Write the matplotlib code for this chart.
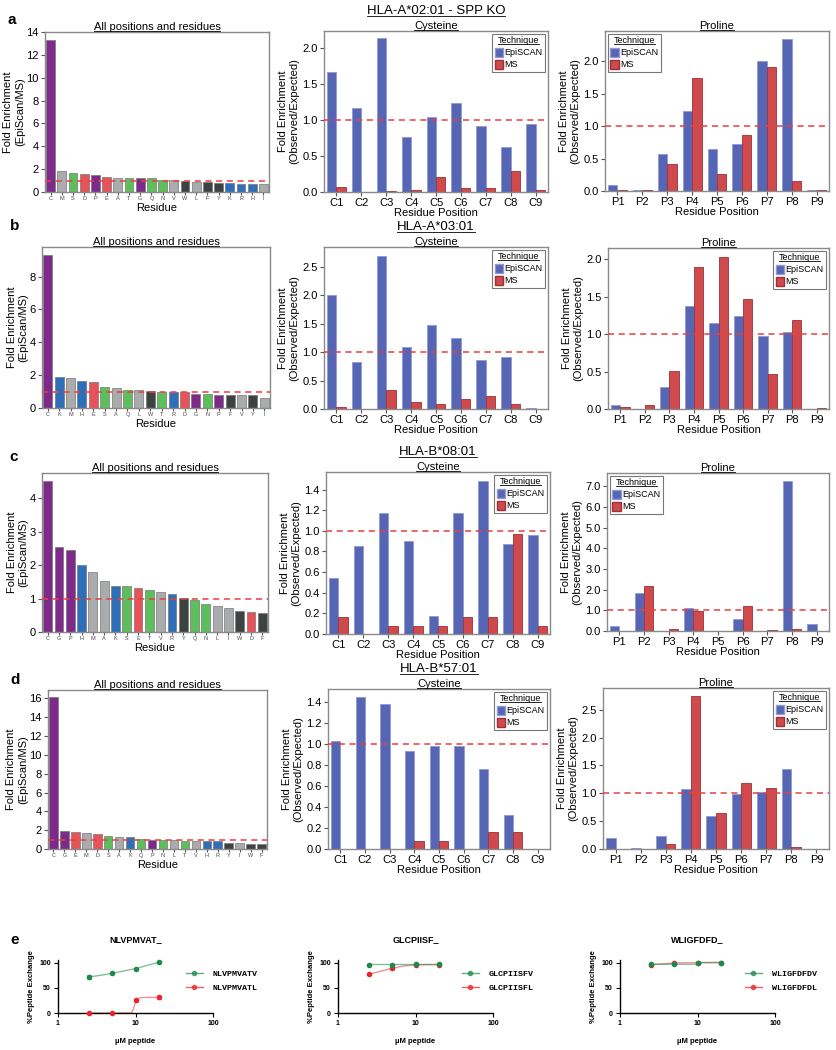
import numpy as np
import matplotlib
matplotlib.use("Agg")
import matplotlib.pyplot as plt
from matplotlib.lines import Line2D
from matplotlib.patches import Patch
from matplotlib.ticker import MultipleLocator, FixedLocator, NullLocator, FormatStrFormatter

plt.rcParams['font.family'] = ['Liberation Sans', 'DejaVu Sans']

W, H = 836, 1050

# ---- residue level fold enrichment (EpiScan/MS) ----
a_res = list("CMSDPEATGQNVWLFYKRHI")
a_fold = [13.33, 1.80, 1.68, 1.54, 1.45, 1.33, 1.25, 1.19, 1.19, 1.19,
          1.07, 1.04, 0.96, 0.84, 0.84, 0.75, 0.75, 0.72, 0.72, 0.67]
b_res = list("CKMHESAQLWTRDGNPFVYI")
b_fold = [9.33, 1.89, 1.81, 1.65, 1.57, 1.26, 1.20, 1.10, 1.08, 1.04,
          1.00, 1.00, 0.98, 0.86, 0.84, 0.79, 0.79, 0.77, 0.77, 0.61]
c_res = list("CGPHMAKSETVRYQNLIWDF")
c_fold = [4.52, 2.55, 2.44, 2.01, 1.80, 1.53, 1.38, 1.36, 1.31, 1.26,
          1.20, 1.13, 1.03, 0.97, 0.83, 0.77, 0.71, 0.64, 0.60, 0.57]
d_res = list("CGEMDSAKQPNLTVHRYIWF")
d_fold = [16.2, 1.92, 1.78, 1.67, 1.58, 1.40, 1.32, 1.32, 1.06, 0.93,
          0.95, 0.94, 0.88, 0.88, 0.84, 0.84, 0.69, 0.65, 0.50, 0.50]

# ---- position level (Observed/Expected) ----
a_cys_epi = [1.66, 1.17, 2.14, 0.76, 1.04, 1.23, 0.92, 0.62, 0.95]
a_cys_ms = [0.07, 0.0, 0.02, 0.03, 0.21, 0.05, 0.05, 0.29, 0.03]
a_pro_epi = [0.09, 0.02, 0.57, 1.24, 0.65, 0.73, 2.00, 2.35, 0.02]
a_pro_ms = [0.015, 0.02, 0.41, 1.75, 0.27, 0.87, 1.92, 0.15, 0.01]

b_cys_epi = [2.00, 0.83, 2.70, 1.09, 1.47, 1.25, 0.86, 0.91, 0.02]
b_cys_ms = [0.03, 0.0, 0.33, 0.13, 0.08, 0.18, 0.23, 0.08, 0.0]
b_pro_epi = [0.06, 0.0, 0.29, 1.37, 1.15, 1.24, 0.97, 1.03, 0.0]
b_pro_ms = [0.03, 0.06, 0.51, 1.89, 2.03, 1.47, 0.47, 1.19, 0.01]

c_cys_epi = [0.54, 0.855, 1.17, 0.90, 0.17, 1.17, 1.48, 0.87, 0.955]
c_cys_ms = [0.16, 0.0, 0.08, 0.08, 0.08, 0.16, 0.16, 0.97, 0.08]
c_pro_epi = [0.26, 1.84, 0.0, 1.09, 0.0, 0.58, 0.0, 7.26, 0.34]
c_pro_ms = [0.0, 2.20, 0.12, 0.95, 0.0, 1.22, 0.07, 0.10, 0.0]

d_cys_epi = [1.03, 1.44, 1.38, 0.93, 0.98, 0.98, 0.76, 0.32, 0.0]
d_cys_ms = [0.0, 0.0, 0.0, 0.08, 0.08, 0.0, 0.16, 0.16, 0.0]
d_pro_epi = [0.19, 0.02, 0.235, 1.07, 0.60, 0.99, 1.03, 1.44, 0.0]
d_pro_ms = [0.0, 0.0, 0.094, 2.74, 0.64, 1.18, 1.09, 0.03, 0.0]

# ---- peptide exchange (panel e) ----
conc = [2.5, 5, 10, 20]
e1_names = ["NLVPMVATV", "NLVPMVATL"]
e1_v = [71.5, 79, 88.5, 101]
e1_v_err = [3.5, 1.5, 1.5, 1.5]
e1_l = [0, 0, 25, 31]
e1_l_err = [0, 0, 1.5, 3]
e1_v_fit_x = [2.5, 3.5, 5, 7, 10, 14, 20]
e1_v_fit_y = [71.5, 75, 79, 83.5, 88.5, 94.5, 101]
e1_l_fit_x = [2.5, 8.8, 9.4, 10, 10.6, 11.5, 13, 20]
e1_l_fit_y = [0, 0, 8, 22, 28, 30.5, 31, 31]

e2_names = ["GLCPIISFV", "GLCPIISFL"]
e2_v = [96, 95.5, 98, 97]
e2_v_err = [1, 1, 1.5, 1]
e2_l = [77, 89, 96, 96.5]
e2_l_err = [1, 1, 1, 1]
e2_v_fit_x = [2.5, 5, 10, 20]
e2_v_fit_y = [96.8, 96.8, 96.8, 96.8]
e2_l_fit_x = [2.5, 3.5, 5, 7, 10, 14, 20]
e2_l_fit_y = [77, 83, 89, 93.5, 95.8, 96.3, 96.5]

e3_names = ["WLIGFDFDV", "WLIGFDFDL"]
e3_v = [97, 97, 99.5, 100.5]
e3_v_err = [1, 1, 1, 1]
e3_l = [96, 99.5, 100.5, 100.5]
e3_l_err = [1, 1, 1, 1]
e3_v_fit_x = [2.5, 5, 9.8, 10.2, 20]
e3_v_fit_y = [97, 97, 97, 100, 100.5]
e3_l_fit_x = [2.5, 5, 10, 20]
e3_l_fit_y = [96, 99.5, 100.5, 100.5]

# colours
purple, green, red, blue, lgrey, dgrey = '#7d2a8b', '#5dbf5c', '#e8535a', '#2f6fba', '#a9abad', '#3d4242'
res_colors = {}
for r in "CPG": res_colors[r] = purple
for r in "STQN": res_colors[r] = green
for r in "DE": res_colors[r] = red
for r in "KRH": res_colors[r] = blue
for r in "MAVLI": res_colors[r] = lgrey
for r in "WFY": res_colors[r] = dgrey
c_epi, c_epi_edge = '#5665b4', '#8f99d2'
c_ms, c_ms_edge = '#cf4a4d', '#9c3035'
dash_red = '#e8403f'
spine_grey = '#8a8a8a'
e_green, e_red = '#1c8a4c', '#e8242a'

fig = plt.figure(figsize=(W / 100, H / 100), dpi=100)
underlined = []


def add_ax(x0, y0, x1, y1):
    return fig.add_axes([x0 / W, 1 - y1 / H, (x1 - x0) / W, (y1 - y0) / H])


def top_text(ax, s, dy, size):
    t = ax.annotate(s, xy=(0.5, 1), xycoords='axes fraction', xytext=(0, dy),
                    textcoords='offset points', ha='center', va='bottom', fontsize=size)
    underlined.append(t)


def grey_box(ax):
    for sp in ax.spines.values():
        sp.set_color(spine_grey)
        sp.set_linewidth(1.0)
    ax.tick_params(axis='both', colors='#555555', labelcolor='black', length=3, width=0.8, pad=1.5)


def residue_panel(rect, residues, values, ymax, step, letter, letter_xy):
    ax = add_ax(*rect)
    idx = np.arange(len(residues))
    cols = [res_colors[r] for r in residues]
    ax.bar(idx, values, width=0.78, color=cols, edgecolor='#777777', linewidth=0.5, zorder=2)
    ax.axhline(1.0, color=dash_red, lw=1.1, dashes=(4, 3), zorder=3)
    ax.set_xlim(-0.5, len(residues) - 0.5)
    ax.set_ylim(0, ymax)
    ax.yaxis.set_major_locator(MultipleLocator(step))
    ax.set_xticks(idx)
    ax.set_xticklabels(residues, fontsize=4, color='#444444')
    grey_box(ax)
    ax.tick_params(axis='y', labelsize=8)
    ax.tick_params(axis='x', length=2, pad=1, labelcolor='#444444')
    ax.set_xlabel("Residue", fontsize=8, labelpad=1)
    ax.set_ylabel("Fold Enrichment\n(EpiScan/MS)", fontsize=8, labelpad=1)
    top_text(ax, "All positions and residues", 0, 8)
    fig.text(letter_xy[0] / W, 1 - letter_xy[1] / H, letter, fontsize=11, fontweight='bold',
             ha='left', va='center')
    return ax


def position_panel(rect, prefix, epi, ms, ymax, step, loc, title, allele=None):
    ax = add_ax(*rect)
    idx = np.arange(len(epi))
    ax.bar(idx - 0.19, epi, width=0.38, color=c_epi, edgecolor=c_epi_edge, linewidth=0.6, zorder=2)
    ax.bar(idx + 0.19, ms, width=0.38, color=c_ms, edgecolor=c_ms_edge, linewidth=0.6, zorder=2)
    ax.axhline(1.0, color=dash_red, lw=1.1, dashes=(4, 3), zorder=3)
    ax.set_xlim(-0.5, len(epi) - 0.5)
    ax.set_ylim(0, ymax)
    ax.yaxis.set_major_locator(MultipleLocator(step))
    ax.yaxis.set_major_formatter(FormatStrFormatter('%.1f'))
    ax.set_xticks(idx)
    ax.set_xticklabels([f"{prefix}{i + 1}" for i in idx])
    grey_box(ax)
    ax.tick_params(axis='both', labelsize=8)
    ax.set_xlabel("Residue Position", fontsize=8, labelpad=0)
    ax.set_ylabel("Fold Enrichment\n(Observed/Expected)", fontsize=8, labelpad=2)
    top_text(ax, title, 0, 8)
    if allele:
        top_text(ax, allele, 10, 9.5)
    handles = [Patch(facecolor=c_epi, edgecolor=c_epi_edge), Patch(facecolor=c_ms, edgecolor=c_ms_edge)]
    leg = ax.legend(handles, ["EpiSCAN", "MS"], title="Technique", loc=loc, fontsize=6.5,
                    title_fontsize=6.5, handlelength=0.9, handleheight=1.2, handletextpad=0.2,
                    borderpad=0.3, labelspacing=0.25, borderaxespad=0.3, fancybox=False,
                    framealpha=1, edgecolor='#777777')
    leg.get_frame().set_linewidth(0.8)
    underlined.append(leg.get_title())
    return ax


def exchange_panel(rect, title, y_v, err_v, y_l, err_l, fvx, fvy, flx, fly, names, leg_x):
    ax = add_ax(*rect)
    ax.plot(fvx, fvy, color=e_green, alpha=0.55, lw=1.0, zorder=2, clip_on=False)
    ax.plot(flx, fly, color=e_red, alpha=0.5, lw=1.0, zorder=1, clip_on=False)
    ax.errorbar(conc, y_l, yerr=err_l, fmt='o', ms=3, color=e_red, elinewidth=0.8,
                capsize=1.5, capthick=0.8, zorder=3, clip_on=False)
    ax.errorbar(conc, y_v, yerr=err_v, fmt='o', ms=3, color=e_green, elinewidth=0.8,
                capsize=1.5, capthick=0.8, zorder=4, clip_on=False)
    ax.set_xscale('log')
    ax.set_xlim(1, 100)
    ax.set_ylim(0, 105.5)
    ax.xaxis.set_major_locator(FixedLocator([1, 10, 100]))
    ax.xaxis.set_minor_locator(NullLocator())
    ax.set_xticklabels(["1", "10", "100"])
    ax.set_yticks([0, 50, 100])
    ax.spines['top'].set_visible(False)
    ax.spines['right'].set_visible(False)
    for sp in ('left', 'bottom'):
        ax.spines[sp].set_linewidth(1.0)
    ax.tick_params(length=3, width=0.8, labelsize=5, pad=2)
    for lab in ax.get_xticklabels() + ax.get_yticklabels():
        lab.set_fontweight('bold')
    ax.set_xlabel("µM peptide", fontsize=5.5, fontweight='bold', labelpad=8)
    ax.set_ylabel("%Peptide Exchange", fontsize=5.5, fontweight='bold', labelpad=3)
    x0, y0, x1, y1 = rect
    fig.text((x0 + x1) / 2 / W, 1 - 940 / H, title, fontsize=6.5, fontweight='bold',
             ha='center', va='center')
    handles = [Line2D([], [], color=e_green, alpha=0.7, lw=1.0, marker='o', ms=3,
                      markerfacecolor=e_green, markeredgecolor=e_green),
               Line2D([], [], color=e_red, alpha=0.7, lw=1.0, marker='o', ms=3,
                      markerfacecolor=e_red, markeredgecolor=e_red)]
    ax.legend(handles, names, loc='upper left', bbox_to_anchor=(leg_x / W, 1 - 970 / H),
              bbox_transform=fig.transFigure, frameon=False, borderpad=0, borderaxespad=0,
              handlelength=2.0, handletextpad=1.2, labelspacing=0.8,
              prop={'family': 'Liberation Mono', 'weight': 'bold', 'size': 6})
    return ax


# row a
residue_panel((45, 32, 269, 192), a_res, a_fold, 14.0, 2, "a", (8, 20))
position_panel((324, 31, 548, 192), "C", a_cys_epi, a_cys_ms, 2.235, 0.5, 'upper right',
               "Cysteine", "HLA-A*02:01 - SPP KO")
position_panel((605, 31, 829, 191), "P", a_pro_epi, a_pro_ms, 2.47, 0.5, 'upper left', "Proline")

# row b
residue_panel((42, 247, 270, 408), b_res, b_fold, 9.8, 2, "b", (10, 226))
position_panel((324, 247, 548, 409), "C", b_cys_epi, b_cys_ms, 2.85, 0.5, 'upper right',
               "Cysteine", "HLA-A*03:01")
position_panel((608, 248, 829, 409), "P", b_pro_epi, b_pro_ms, 2.15, 0.5, 'upper right', "Proline")

# row c
residue_panel((42, 473, 268, 632), c_res, c_fold, 4.75, 1, "c", (9, 457))
position_panel((326, 472, 550, 634), "C", c_cys_epi, c_cys_ms, 1.57, 0.2, 'upper right',
               "Cysteine", "HLA-B*08:01")
position_panel((607, 473, 829, 631), "P", c_pro_epi, c_pro_ms, 7.64, 1.0, 'upper left', "Proline")

# row d
residue_panel((48, 690, 267, 849), d_res, d_fold, 16.9, 2, "d", (10, 680))
position_panel((328, 689, 550, 849), "C", d_cys_epi, d_cys_ms, 1.52, 0.2, 'upper right',
               "Cysteine", "HLA-B*57:01")
position_panel((603, 688, 829, 849), "P", d_pro_epi, d_pro_ms, 2.89, 0.5, 'upper right', "Proline")

# row e
fig.text(10 / W, 1 - 940 / H, "e", fontsize=11, fontweight='bold', ha='left', va='center')
exchange_panel((58, 960, 213, 1013), "NLVPMVAT_", e1_v, e1_v_err, e1_l, e1_l_err,
               e1_v_fit_x, e1_v_fit_y, e1_l_fit_x, e1_l_fit_y, e1_names, 186)
exchange_panel((338, 960, 493, 1013), "GLCPIISF_", e2_v, e2_v_err, e2_l, e2_l_err,
               e2_v_fit_x, e2_v_fit_y, e2_l_fit_x, e2_l_fit_y, e2_names, 462)
exchange_panel((620, 960, 775, 1013), "WLIGFDFD_", e3_v, e3_v_err, e3_l, e3_l_err,
               e3_v_fit_x, e3_v_fit_y, e3_l_fit_x, e3_l_fit_y, e3_names, 745)

# underline titles
fig.canvas.draw()
renderer = fig.canvas.get_renderer()
for t in underlined:
    bb = t.get_window_extent(renderer)
    y = (bb.y0 + 1.2) / H
    fig.add_artist(Line2D([bb.x0 / W, bb.x1 / W], [y, y], transform=fig.transFigure,
                          color='black', lw=0.6))

fig.savefig("out.png", dpi=100)
